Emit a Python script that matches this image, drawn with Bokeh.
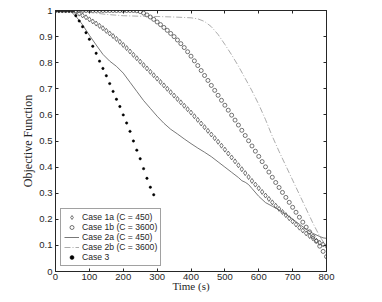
from bokeh.plotting import figure
from bokeh.models import FixedTicker, LinearAxis, Legend, LegendItem, Range1d
from bokeh.embed import file_html
from bokeh.resources import INLINE

# ---------------- data ----------------
t_markers = [0, 10, 20, 30, 40, 50, 60, 70, 80, 90, 100, 110, 120, 130, 140, 150, 160, 170, 180, 190,
             200, 210, 220, 230, 240, 250, 260, 270, 280, 290, 300, 310, 320, 330, 340, 350, 360, 370, 380, 390,
             400, 410, 420, 430, 440, 450, 460, 470, 480, 490, 500, 510, 520, 530, 540, 550, 560, 570, 580, 590,
             600, 610, 620, 630, 640, 650, 660, 670, 680, 690, 700, 710, 720, 730, 740, 750, 760, 770, 780, 790,
             800]

case1a = [1, 1, 1, 1, 1, 1,
          0.994, 0.988, 0.981, 0.974, 0.966, 0.958, 0.95, 0.941, 0.932, 0.922, 0.912, 0.902, 0.891, 0.88, 0.868,
          0.856, 0.843, 0.83, 0.817, 0.804, 0.791, 0.778, 0.765, 0.752, 0.739, 0.726, 0.713, 0.7, 0.687, 0.674,
          0.661, 0.648, 0.635, 0.622, 0.609,
          0.595, 0.581, 0.567, 0.553, 0.539, 0.525, 0.511, 0.497, 0.482, 0.467, 0.452, 0.437, 0.422, 0.407, 0.392,
          0.377, 0.362, 0.347, 0.333, 0.319,
          0.305, 0.291, 0.278, 0.265, 0.252, 0.24, 0.228, 0.216, 0.204, 0.192, 0.18, 0.168, 0.157, 0.146, 0.136,
          0.127, 0.118, 0.11, 0.104, 0.098]

case1b = [1, 1, 1, 1, 1, 1, 1, 1, 1, 1, 1, 1, 1, 1, 1, 1, 1, 1, 1, 1, 1, 1, 1, 1, 0.999,
          0.996, 0.99, 0.983, 0.975, 0.966, 0.956, 0.946, 0.935, 0.924, 0.912, 0.9, 0.887, 0.873, 0.858, 0.842,
          0.825,
          0.807, 0.789, 0.77, 0.751, 0.732, 0.713, 0.694, 0.675, 0.656, 0.637, 0.618, 0.599, 0.58, 0.561, 0.541,
          0.521, 0.501, 0.481, 0.461, 0.441,
          0.421, 0.401, 0.381, 0.361, 0.341, 0.322, 0.303, 0.284, 0.265, 0.246, 0.227, 0.208, 0.189, 0.17, 0.152,
          0.134, 0.116, 0.097, 0.077, 0.057]

t_case2a = [0, 40, 50, 60, 70, 80, 90, 100, 120, 140, 160, 180, 200, 220, 240, 260, 280, 300, 320, 340,
            360, 380, 400, 420, 440, 460, 480, 500, 520, 540, 550, 560, 570, 580, 600, 620, 640, 660, 680, 700,
            720, 740, 760, 780, 790, 800]
case2a = [1, 1, 0.99, 0.978, 0.962, 0.945, 0.925, 0.905, 0.868, 0.832, 0.806, 0.786, 0.76, 0.725, 0.69,
          0.655, 0.625, 0.595, 0.568, 0.545, 0.527, 0.508, 0.49, 0.473, 0.457, 0.44, 0.42, 0.40, 0.38, 0.36,
          0.348, 0.342, 0.333, 0.318, 0.288, 0.264, 0.25, 0.236, 0.219, 0.201, 0.181, 0.162, 0.146, 0.134,
          0.129, 0.127]

t_case2b = [0, 60, 80, 100, 150, 200, 250, 300, 350, 400, 420, 440, 460, 480, 500, 520, 540, 560, 580, 600,
            620, 640, 660, 680, 700, 720, 740, 760, 780, 790, 800]
case2b = [1, 1, 0.997, 0.993, 0.985, 0.98, 0.978, 0.977, 0.975, 0.972, 0.968, 0.958, 0.938, 0.908, 0.87,
          0.83, 0.787, 0.74, 0.692, 0.64, 0.582, 0.518, 0.46, 0.405, 0.35, 0.295, 0.24, 0.185, 0.135, 0.115, 0.1]

t_case3 = [0, 10, 20, 30, 40, 50, 60, 70, 80, 90, 100, 110, 120, 130, 140, 150, 160, 170, 180, 190,
           200, 210, 220, 230, 240, 250, 260, 270, 280, 290]
case3 = [1, 1, 1, 1, 1, 1, 0.98, 0.96, 0.938, 0.915, 0.89, 0.863, 0.836, 0.806, 0.778, 0.75, 0.72, 0.69,
         0.66, 0.632, 0.60, 0.569, 0.537, 0.50, 0.465, 0.432, 0.394, 0.357, 0.323, 0.294]

x_ticks = [0, 100, 200, 300, 400, 500, 600, 700, 800]
x_tick_labels = ["0", "100", "200", "300", "400", "500", "600", "700", "800"]
y_ticks = [0, 0.1, 0.2, 0.3, 0.4, 0.5, 0.6, 0.7, 0.8, 0.9, 1]
y_tick_labels = ["0", "0.1", "0.2", "0.3", "0.4", "0.5", "0.6", "0.7", "0.8", "0.9", "1"]

labels = ["Case 1a (C = 450)", "Case 1b (C = 3600)", "Case 2a (C = 450)", "Case 2b (C = 3600)", "Case 3"]

# ---------------- figure ----------------
AX = "#262626"
p = figure(width=374, height=294, output_backend="svg", toolbar_location=None,
           x_range=Range1d(0, 800), y_range=Range1d(0, 1),
           min_border_left=55, min_border_right=48, min_border_top=10, min_border_bottom=14)
p.background_fill_color = "white"
p.border_fill_color = "white"
p.outline_line_color = AX
p.outline_line_width = 0.8
p.grid.visible = False

sans = "Liberation Sans"
serif = "Liberation Serif"

for ax, ticks, labs in ((p.xaxis[0], x_ticks, x_tick_labels), (p.yaxis[0], y_ticks, y_tick_labels)):
    ax.ticker = FixedTicker(ticks=ticks)
    ax.major_label_overrides = {t: l for t, l in zip(ticks, labs)}
    ax.major_tick_in = 3
    ax.major_tick_out = 0
    ax.minor_tick_line_color = None
    ax.axis_line_color = AX
    ax.major_tick_line_color = AX
    ax.major_label_text_font = sans
    ax.major_label_text_font_size = "9.5px"
    ax.major_label_text_color = AX
    ax.axis_label_text_font = serif
    ax.axis_label_text_font_style = "normal"
    ax.axis_label_text_color = AX

p.xaxis[0].axis_label = "Time (s)"
p.xaxis[0].axis_label_text_font_size = "11px"
p.xaxis[0].major_label_standoff = 2
p.xaxis[0].axis_label_standoff = -3
p.yaxis[0].axis_label = "Objective Function"
p.yaxis[0].axis_label_text_font_size = "12px"
p.yaxis[0].major_label_standoff = 3
p.yaxis[0].axis_label_standoff = 1

for side, ticks in (("above", x_ticks), ("right", y_ticks)):
    a = LinearAxis(ticker=FixedTicker(ticks=ticks), major_tick_in=3, major_tick_out=0,
                   minor_tick_line_color=None,
                   major_label_overrides={t: "" for t in ticks},
                   major_label_text_color=None,
                   major_label_standoff=0, axis_line_color=AX, major_tick_line_color=AX)
    p.add_layout(a, side)

r1a = p.scatter(t_markers, case1a, marker="diamond", size=5, fill_color=None,
                line_color="#3a3a3a", line_width=0.7)
r1b = p.scatter(t_markers, case1b, marker="circle", size=4, fill_color=None,
                line_color="#3a3a3a", line_width=0.7)
r2a = p.line(t_case2a, case2a, line_color="#555555", line_width=0.8)
r2b = p.line(t_case2b, case2b, line_color="#888888", line_width=0.7, line_dash="6 2 1 2")
r3 = p.scatter(t_case3, case3, marker="circle", size=2.4, fill_color="black", line_color="black",
               line_width=0.5)

legend = Legend(items=[LegendItem(label=l, renderers=[r]) for l, r in
                       zip(labels, [r1a, r1b, r2a, r2b, r3])],
                location="bottom_left", margin=5, padding=3, spacing=0,
                label_height=10, glyph_height=10, glyph_width=15, label_standoff=3,
                label_text_font=sans, label_text_font_size="8.6px", label_text_color=AX,
                border_line_color="#444444", border_line_width=0.7,
                background_fill_color="white", background_fill_alpha=1)
p.add_layout(legend)

open("out.html", "w").write(file_html(p, INLINE))
